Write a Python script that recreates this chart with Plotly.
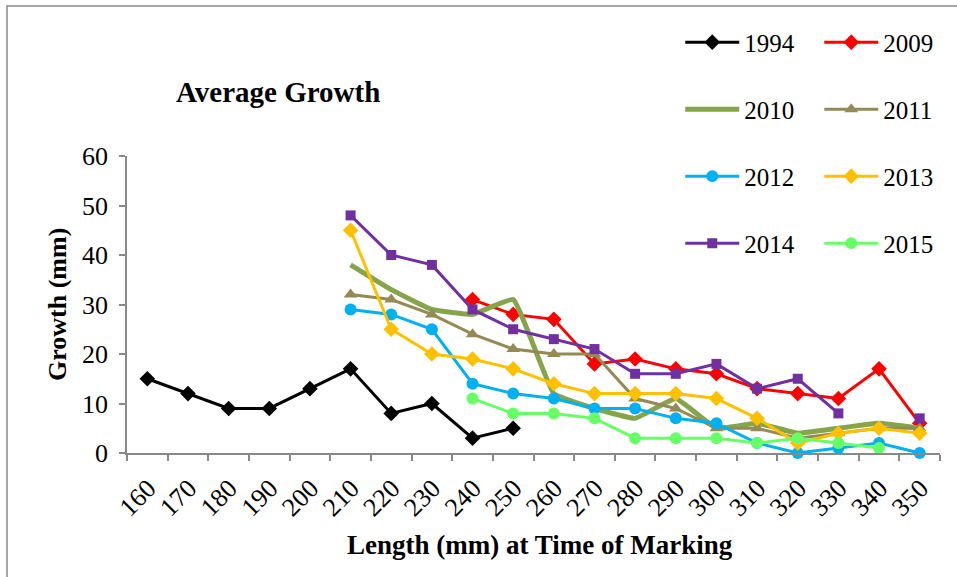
import plotly.graph_objects as go

lengths = ["160", "170", "180", "190", "200", "210", "220", "230", "240", "250",
           "260", "270", "280", "290", "300", "310", "320", "330", "340", "350"]

N = None
y1994 = [15, 12, 9, 9, 13, 17, 8, 10, 3, 5, N, N, N, N, N, N, N, N, N, N]
y2009 = [N, N, N, N, N, N, N, N, 31, 28, 27, 18, 19, 17, 16, 13, 12, 11, 17, 6]
y2010 = [N, N, N, N, N, 38, 33, 29, 28, 31, 12, 9, 7, 11, 5, 6, 4, 5, 6, 5]
y2011 = [N, N, N, N, N, 32, 31, 28, 24, 21, 20, 20, 11, 9, 5, 5, 3, 4, 5, 5]
y2012 = [N, N, N, N, N, 29, 28, 25, 14, 12, 11, 9, 9, 7, 6, 2, 0, 1, 2, 0]
y2013 = [N, N, N, N, N, 45, 25, 20, 19, 17, 14, 12, 12, 12, 11, 7, 2, 4, 5, 4]
y2014 = [N, N, N, N, N, 48, 40, 38, 29, 25, 23, 21, 16, 16, 18, 13, 15, 8, N, 7]
y2015 = [N, N, N, N, N, N, N, N, 11, 8, 8, 7, 3, 3, 3, 2, 3, 2, 1, N]

FONT = "Liberation Serif"
AX = "#898989"

series = [
    ("1994", y1994, "#000000", "diamond", 3, 12, "legend"),
    ("2009", y2009, "#FF0000", "diamond", 3, 12, "legend2"),
    ("2010", y2010, "#86A44A", None, 5, 0, "legend"),
    ("2011", y2011, "#948A54", "triangle-up", 3, 12, "legend2"),
    ("2012", y2012, "#00B0F0", "circle", 3, 12, "legend"),
    ("2013", y2013, "#FFC000", "diamond", 3, 12, "legend2"),
    ("2014", y2014, "#7030A0", "square", 3, 10, "legend"),
    ("2015", y2015, "#66FF66", "circle", 3, 12, "legend2"),
]

fig = go.Figure()
for name, ys, col, sym, lw, ms, lg in series:
    if sym is None:
        fig.add_trace(go.Scatter(
            x=lengths, y=ys, name=name, mode="lines",
            line=dict(color=col, width=lw, shape="spline", smoothing=0.3),
            legend=lg, legendgroup=name, cliponaxis=False))
    else:
        fig.add_trace(go.Scatter(
            x=lengths, y=ys, name=name, mode="lines+markers",
            line=dict(color=col, width=lw),
            marker=dict(symbol=sym, size=ms, color=col),
            legend=lg, legendgroup=name, cliponaxis=False))

legend_common = dict(
    orientation="v", xanchor="left", yanchor="top",
    font=dict(family=FONT, size=25, color="#000000"),
    tracegroupgap=31.5, bgcolor="rgba(0,0,0,0)", borderwidth=0,
    traceorder="grouped", itemwidth=54,
)

fig.update_layout(
    width=957, height=577,
    margin=dict(l=127, r=17, t=156, b=124, autoexpand=False),
    paper_bgcolor="white", plot_bgcolor="white",
    font=dict(family=FONT, color="#000000"),
    showlegend=True,
    legend=dict(x=0.6805, y=1.46, **legend_common),
    legend2=dict(x=0.8515, y=1.46, **legend_common),
    xaxis=dict(
        type="category", categoryorder="array", categoryarray=lengths,
        range=[-0.5, 19.5], automargin=False,
        showline=True, linecolor=AX, linewidth=1.5,
        ticks="outside", tickson="boundaries", ticklen=6, tickcolor=AX, tickwidth=1.5,
        tickangle=-45, tickfont=dict(family=FONT, size=26, color="#000000"),
        ticklabelstandoff=8, ticklabelshift=1,
        showgrid=False, zeroline=False,
    ),
    yaxis=dict(
        range=[0, 60], tickmode="linear", tick0=0, dtick=10, automargin=False,
        showline=True, linecolor=AX, linewidth=1.5,
        ticks="outside", ticklen=6, tickcolor=AX, tickwidth=1.5,
        tickfont=dict(family=FONT, size=26, color="#000000"),
        ticklabelstandoff=6,
        showgrid=False, zeroline=False,
    ),
    annotations=[
        dict(text="<b>Average Growth</b>", xref="paper", yref="paper",
             x=(174 - 127) / 813, y=1 + (156 - 92) / 297,
             xanchor="left", yanchor="middle", showarrow=False,
             font=dict(family=FONT, size=29, color="#000000")),
        dict(text="<b>Growth (mm)</b>", xref="paper", yref="paper",
             x=(57 - 127) / 813, y=(453 - 305) / 297, textangle=-90,
             xanchor="center", yanchor="middle", showarrow=False,
             font=dict(family=FONT, size=26, color="#000000")),
        dict(text="<b>Length (mm) at Time of Marking</b>", xref="paper", yref="paper",
             x=(540 - 127) / 813, y=-(545 - 453) / 297,
             xanchor="center", yanchor="middle", showarrow=False,
             font=dict(family=FONT, size=27, color="#000000")),
    ],
    shapes=[dict(
        type="rect", xref="paper", yref="paper",
        x0=(7 - 127) / 813, x1=(962 - 127) / 813,
        y0=(453 - 582) / 297, y1=1 + (156 - 6) / 297,
        line=dict(color=AX, width=1.5), fillcolor="rgba(0,0,0,0)", layer="below")],
)

fig.write_html("out.html", config={"displayModeBar": False},
               post_script="document.body.style.margin='0px';")
